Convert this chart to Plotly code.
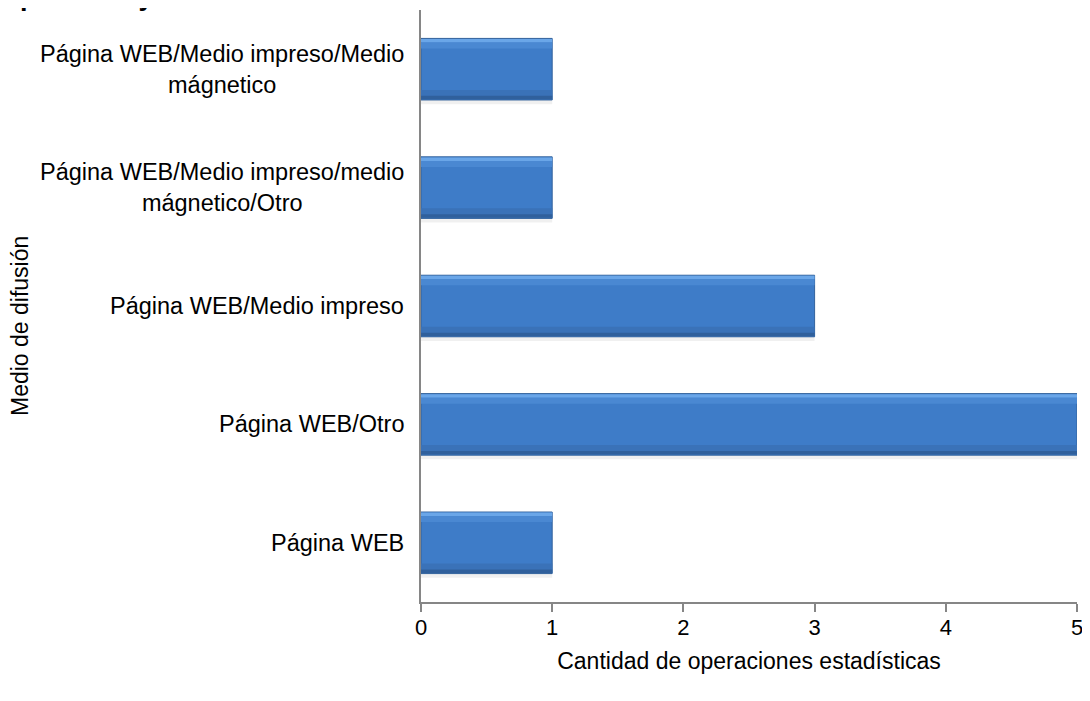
import plotly.graph_objects as go

# Data (bottom to top)
categories = [
    "Página WEB",
    "Página WEB/Otro",
    "Página WEB/Medio impreso",
    "Página WEB/Medio impreso/medio<br>mágnetico/Otro",
    "Página WEB/Medio impreso/Medio<br>mágnetico",
]
values = [1, 5, 3, 1, 1]
x_ticks = [0, 1, 2, 3, 4, 5]
x_title = "Cantidad de operaciones estadísticas"
y_title = "Medio de difusión"
top_title = "públicos y costos"

FONT = "Liberation Sans, Arial, sans-serif"

fig = go.Figure()

# soft shadow under bars
fig.add_trace(go.Bar(
    y=categories, x=values, orientation="h",
    width=0.035, offset=-0.295,
    marker=dict(color="rgba(0,0,0,0.06)", line=dict(width=0)),
    hoverinfo="skip", showlegend=False,
))
# main bar
fig.add_trace(go.Bar(
    y=categories, x=values, orientation="h",
    width=0.52, offset=-0.26,
    marker=dict(color="#3e7cc8", line=dict(color="#33629c", width=1)),
    showlegend=False,
))
# top highlight band
fig.add_trace(go.Bar(
    y=categories, x=values, orientation="h",
    width=0.03, offset=0.225,
    marker=dict(color="#6aa6e8", line=dict(width=0)),
    hoverinfo="skip", showlegend=False,
))
# upper soft band
fig.add_trace(go.Bar(
    y=categories, x=values, orientation="h",
    width=0.05, offset=0.175,
    marker=dict(color="#4a88d2", line=dict(width=0)),
    hoverinfo="skip", showlegend=False,
))
# lower shade band
fig.add_trace(go.Bar(
    y=categories, x=values, orientation="h",
    width=0.08, offset=-0.255,
    marker=dict(color="#3a72b8", line=dict(width=0)),
    hoverinfo="skip", showlegend=False,
))
# bottom edge
fig.add_trace(go.Bar(
    y=categories, x=values, orientation="h",
    width=0.03, offset=-0.255,
    marker=dict(color="#30609c", line=dict(width=0)),
    hoverinfo="skip", showlegend=False,
))

annotations = []
for c in categories:
    annotations.append(dict(
        xref="paper", yref="y", x=0, y=c, xanchor="right", yanchor="middle",
        xshift=-15, text=c, showarrow=False, align="center",
        font=dict(family=FONT, size=23.5, color="#000000"),
    ))
annotations.append(dict(
    xref="paper", yref="paper", x=0, y=0.5, xanchor="center", yanchor="middle",
    xshift=-401, yshift=-20, text=y_title, textangle=-90, showarrow=False,
    font=dict(family=FONT, size=23, color="#000000"),
))
annotations.append(dict(
    xref="paper", yref="paper", x=0, y=1, xanchor="left", yanchor="bottom",
    xshift=-403, yshift=-3, text="<b>" + top_title + "</b>", showarrow=False,
    font=dict(family=FONT, size=27, color="#000000"),
))

fig.update_layout(
    width=1082, height=693,
    margin=dict(l=413, r=13, t=2, b=99),
    paper_bgcolor="white", plot_bgcolor="white",
    barmode="overlay",
    annotations=annotations,
    xaxis=dict(
        range=[0, 5], tickvals=x_ticks, ticktext=[str(v) for v in x_ticks],
        showgrid=False, zeroline=False,
        showline=True, linecolor="#868686", linewidth=1.5,
        ticks="outside", ticklen=8, tickcolor="#868686", tickwidth=1.5,
        ticklabelstandoff=-3,
        tickfont=dict(family=FONT, size=22, color="#000000"),
        title=dict(text=x_title, standoff=14,
                   font=dict(family=FONT, size=23, color="#000000")),
        fixedrange=True,
    ),
    yaxis=dict(
        categoryorder="array", categoryarray=categories,
        range=[-0.5, 4.5],
        showticklabels=False, showgrid=False, zeroline=False,
        showline=True, linecolor="#868686", linewidth=1.5,
        ticks="",
        fixedrange=True,
    ),
)

fig.write_html("out.html")
